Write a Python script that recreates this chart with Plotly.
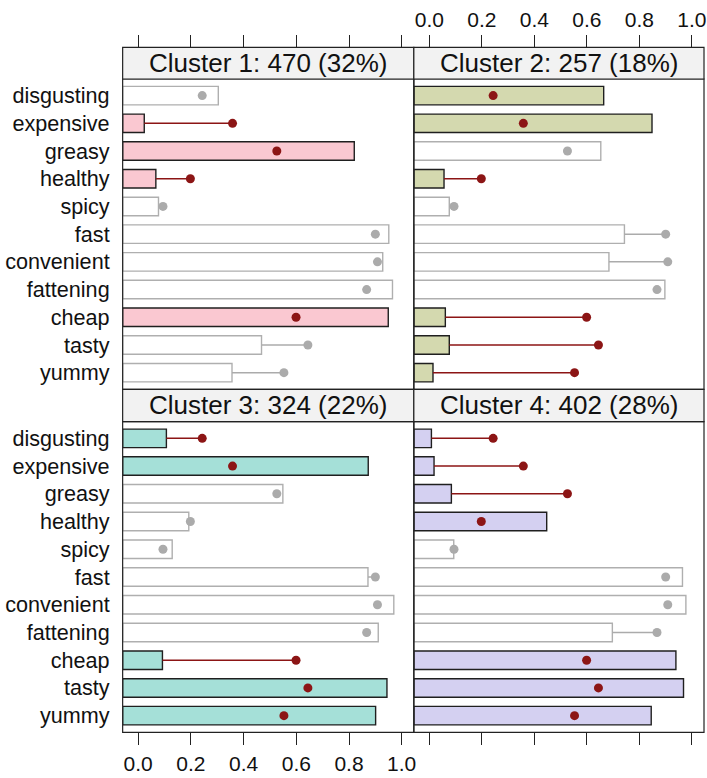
import numpy as np
import plotly.graph_objects as go

# ---------------- data ----------------
attributes = ["disgusting", "expensive", "greasy", "healthy", "spicy", "fast",
              "convenient", "fattening", "cheap", "tasty", "yummy"]

population_mean = [0.243, 0.358, 0.526, 0.198, 0.094, 0.900,
                   0.908, 0.867, 0.599, 0.644, 0.553]

cluster_titles = ["Cluster 1: 470 (32%)", "Cluster 2: 257 (18%)",
                  "Cluster 3: 324 (22%)", "Cluster 4: 402 (28%)"]

cluster1 = [0.304, 0.023, 0.820, 0.067, 0.077, 0.951, 0.928, 0.965, 0.949, 0.468, 0.356]
cluster2 = [0.664, 0.848, 0.653, 0.056, 0.076, 0.743, 0.684, 0.897, 0.061, 0.076, 0.014]
cluster3 = [0.107, 0.873, 0.549, 0.192, 0.129, 0.872, 0.970, 0.911, 0.092, 0.944, 0.901]
cluster4 = [0.008, 0.018, 0.084, 0.447, 0.093, 0.964, 0.977, 0.697, 0.939, 0.968, 0.845]

shade1 = [False, True, True, True, False, False, False, False, True, False, False]
shade2 = [True, True, False, True, False, False, False, False, True, True, True]
shade3 = [True, True, False, False, False, False, False, False, True, True, True]
shade4 = [True, True, True, True, False, False, False, False, True, True, True]

tick_values = [0.0, 0.2, 0.4, 0.6, 0.8, 1.0]
tick_labels = ["0.0", "0.2", "0.4", "0.6", "0.8", "1.0"]

# ---------------- style ----------------
cluster_fill = ["#FAC8D1", "#D4D9AF", "#A5E0D8", "#D4D0F1"]
DARK = "#1f1f1f"
PLAIN = "#AFAFAF"
RED = "#8C1515"
GREY_DOT = "#ABABAB"
FONT = "Liberation Sans, Arial, Helvetica, sans-serif"
XMIN, XMAX = -0.059, 1.046

W, H = 707, 778
def px(x):
    return x / W
def py(y):
    return 1 - y / H

colL = (123, 415)
colR = (415, 706)
rowT = (79, 389.3)
rowB = (421.7, 732.3)
stripT = (47.3, 79)
stripB = (389.3, 421.7)

panels = [
    (cluster1, shade1, colL, rowT, stripT),
    (cluster2, shade2, colR, rowT, stripT),
    (cluster3, shade3, colL, rowB, stripB),
    (cluster4, shade4, colR, rowB, stripB),
]

fig = go.Figure()
layout = dict(
    width=W, height=H, margin=dict(l=0, r=0, t=0, b=0),
    paper_bgcolor="white", plot_bgcolor="white", showlegend=False,
    font=dict(family=FONT, color="#111111"),
)
shapes = []
annotations = []

for i, (vals, shade, col, row, strip) in enumerate(panels):
    k = i + 1
    xa = "x" if k == 1 else f"x{k}"
    ya = "y" if k == 1 else f"y{k}"
    vals = np.array(vals)
    shade = np.array(shade)
    pop = np.array(population_mean)

    fills = [cluster_fill[i] if s else "white" for s in shade]
    lines = [DARK if s else PLAIN for s in shade]
    fig.add_trace(go.Bar(
        orientation="h", y=attributes, x=vals - XMIN, base=XMIN,
        width=0.667, marker=dict(color=fills, line=dict(color=lines, width=1.4)),
        xaxis=xa, yaxis=ya, hoverinfo="skip"))

    # connecting segments from bar end to population mean
    for flag, colr in ((True, RED), (False, GREY_DOT)):
        sx, sy = [], []
        for a, v, p, s in zip(attributes, vals, pop, shade):
            if s == flag and p > v:
                sx += [v, p, None]
                sy += [a, a, None]
        if sx:
            fig.add_trace(go.Scatter(x=sx, y=sy, mode="lines",
                                     line=dict(color=colr, width=1.5),
                                     xaxis=xa, yaxis=ya, hoverinfo="skip"))
    fig.add_trace(go.Scatter(
        x=pop, y=attributes, mode="markers",
        marker=dict(size=9, color=[RED if s else GREY_DOT for s in shade],
                    line=dict(width=0)),
        xaxis=xa, yaxis=ya, hoverinfo="skip"))

    top = k <= 2
    left = k in (1, 3)
    xdict = dict(
        domain=[px(col[0]), px(col[1])], range=[XMIN, XMAX],
        tickvals=tick_values, ticktext=tick_labels,
        ticks="outside", ticklen=12, tickwidth=1, tickcolor="#222222",
        showgrid=False, zeroline=False, showline=False, fixedrange=True,
        tickfont=dict(size=21, family=FONT, color="#111111"),
    )
    if top:
        xdict.update(side="top", anchor="free", position=py(strip[0]),
                     showticklabels=(k == 2))
    else:
        xdict.update(side="bottom", anchor=ya, showticklabels=(k == 3))
    ydict = dict(
        domain=[py(row[1]), py(row[0])], anchor=xa, type="category",
        range=[len(attributes) - 1 + 0.6, -0.6],
        showgrid=False, zeroline=False, showline=False, ticks="",
        showticklabels=left, ticklabelstandoff=12, fixedrange=True,
        tickfont=dict(size=21.6, family=FONT, color="#111111"),
    )
    layout["xaxis" if k == 1 else f"xaxis{k}"] = xdict
    layout["yaxis" if k == 1 else f"yaxis{k}"] = ydict

    # panel frame
    shapes.append(dict(type="rect", xref="paper", yref="paper",
                       x0=px(col[0]), x1=px(col[1]), y0=py(row[1]), y1=py(row[0]),
                       line=dict(color="#222222", width=1.2), fillcolor="rgba(0,0,0,0)",
                       layer="above"))
    # strip
    shapes.append(dict(type="rect", xref="paper", yref="paper",
                       x0=px(col[0]), x1=px(col[1]), y0=py(strip[1]), y1=py(strip[0]),
                       line=dict(color="#222222", width=1.2), fillcolor="#F2F2F2",
                       layer="above"))
    annotations.append(dict(xref="paper", yref="paper",
                            x=px((col[0] + col[1]) / 2), y=py((strip[0] + strip[1]) / 2),
                            text=cluster_titles[i], showarrow=False,
                            xanchor="center", yanchor="middle",
                            font=dict(size=26, family=FONT, color="#111111")))

layout["shapes"] = shapes
layout["annotations"] = annotations
fig.update_layout(**layout)
fig.write_html(
    "out.html",
    config={"displayModeBar": False, "staticPlot": True},
    post_script="document.body.style.margin='0';document.body.style.padding='0';"
                "document.body.style.overflow='hidden';",
)
